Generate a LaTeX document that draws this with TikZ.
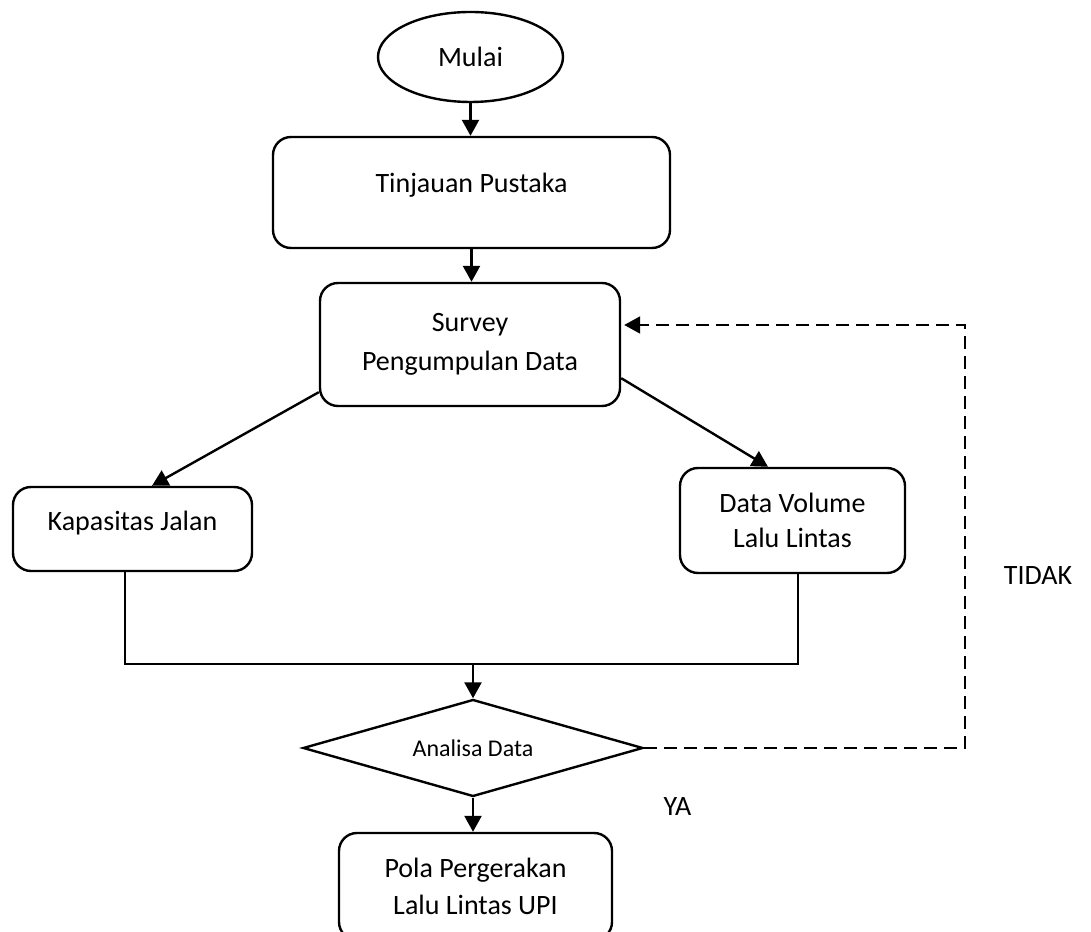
\documentclass[tikz,border=0pt]{standalone}
\usepackage{fontspec}
\setmainfont{Carlito}
\usetikzlibrary{shapes.geometric,arrows.meta,calc}

\begin{document}
\begin{tikzpicture}[x=1pt,y=1pt,
  line width=2.4pt,
  every node/.style={font=\fontsize{28}{37}\selectfont, inner sep=0pt},
  startnode/.style={draw, ellipse, minimum width=185, minimum height=90},
  procbox/.style={draw, rectangle, rounded corners=18pt, align=center},
  decision/.style={draw, diamond, aspect=3.5, minimum width=340, minimum height=97,
    font=\fontsize{24}{30}\selectfont},
  flow/.style={-{Triangle[width=17pt,length=16pt]}},
  back/.style={flow, line width=2pt, dash pattern=on 13pt off 7pt},
  plain/.style={font=\fontsize{28}{34}\selectfont}
]
\useasboundingbox (0,0) rectangle (1091,931);

% process nodes
\node[startnode] (mulai) at (470.5,874) {Mulai};
\node[procbox, minimum width=397, minimum height=111,
      label={[name=tptext, yshift=7pt]center:Tinjauan Pustaka}] (tp) at (471.5,738.5) {};
\node[procbox, minimum width=300, minimum height=123,
      font=\fontsize{28}{39}\selectfont] (sv) at (470,586.5) {Survey\\Pengumpulan Data};
\node[procbox, minimum width=239, minimum height=84,
      label={[name=kjtext, yshift=6pt]center:Kapasitas Jalan}] (kj) at (132.5,402) {};
\node[procbox, minimum width=225, minimum height=105,
      font=\fontsize{28}{35}\selectfont] (dv) at (792.5,410.5) {Data Volume\\Lalu Lintas};
\node[decision] (ad) at (473,183) {Analisa Data};
\node[procbox, minimum width=273, minimum height=107] (pola) at (475.5,44.5) {Pola Pergerakan\\Lalu Lintas UPI};

% labels of the decision branches
\node[plain] (tidak) at (1038,355) {TIDAK};
\node[plain] (ya) at (677.5,124) {YA};

% junction below the two data boxes
\coordinate (mleft) at ($(kj.south)+(-7.5,-92)$);
\coordinate (mright) at ($(mleft -| dv.south)+(5.5,0)$);
\coordinate (mid) at (mleft -| ad.north);

% connectors
\draw[flow] (mulai.south) -- (mulai.south |- tp.north);
\draw[flow] (tp.south) -- (tp.south |- sv.north);
\draw[flow] ($(sv.south west)+(0,15)$) -- ($(kj.north)+(19.5,0)$);
\draw[flow] ($(sv.south east)+(0,29)$) -- ($(dv.north)+(-24.5,0)$);
\draw (kj.south -| mleft) -- (mleft) -- (mright) -- (dv.south -| mright);
\draw[flow] (mid) -- (ad.north);
\draw[flow] (ad.south) -- (ad.south |- pola.north);
\coordinate (turn) at (965,606);
\draw[back] (ad.east) -- (ad.east -| turn) -- (turn) -- ($(turn -| sv.east)+(3,0)$);
\end{tikzpicture}
\end{document}
